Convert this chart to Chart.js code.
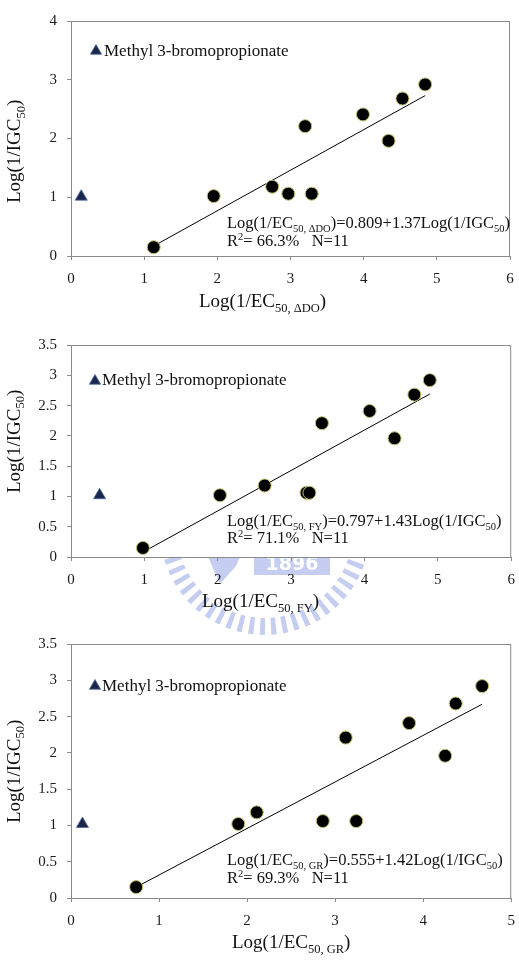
<!DOCTYPE html>
<html>
<head>
<meta charset="utf-8">
<script src="https://cdn.jsdelivr.net/npm/chart.js@4.4.1/dist/chart.umd.min.js"></script>
<style>
  html, body { margin: 0; padding: 0; background: #fff; }
  #wrap { position: relative; width: 519px; height: 961px; overflow: hidden; }
  canvas { position: absolute; left: 0; }
</style>
</head>
<body>
<div id="wrap">
  <canvas id="wm" width="519" height="961" style="top:0"></canvas>
  <canvas id="c1" width="519" height="320" style="top:0"></canvas>
  <canvas id="c2" width="519" height="320" style="top:320px"></canvas>
  <canvas id="c3" width="519" height="341" style="top:620px"></canvas>
</div>
<script>
const SERIF = '"Liberation Serif", "Times New Roman", serif';

// Log(1/IGC50), same compounds in every panel
const igc = [0.15, 1.02, 1.18, 1.06, 1.06, 2.21, 2.41, 1.96, 2.68, 2.92];
// Log(1/EC50) for the three end points
const ecDO = [1.13, 1.95, 2.75, 2.97, 3.29, 3.20, 3.99, 4.34, 4.53, 4.84];
const ecFY = [0.98, 2.03, 2.64, 3.21, 3.25, 3.42, 4.07, 4.41, 4.68, 4.89];
const ecGR = [0.74, 1.90, 2.11, 2.86, 3.24, 3.12, 3.84, 4.25, 4.37, 4.67];
// Methyl 3-bromopropionate, [x, y]
const outDO = [0.14, 1.01];
const outFY = [0.39, 1.02];
const outGR = [0.13, 1.02];
// trend line end points
const fitDO = [[1.13, 0.17], [4.84, 2.73]];
const fitFY = [[0.98, 0.08], [4.89, 2.69]];
const fitGR = [[0.74, 0.15], [4.67, 2.67]];
// ticks
const xTicks6 = [0, 1, 2, 3, 4, 5, 6];
const xTicks5 = [0, 1, 2, 3, 4, 5];
const yTicks4 = [0, 1, 2, 3, 4];
const yTicks35 = [0, 0.5, 1, 1.5, 2, 2.5, 3, 3.5];

const PANELS = [
    {
        canvas: 'c1', xs: ecDO, out: outDO, fit: fitDO, xTicks: xTicks6, yTicks: yTicks4,
        box: { left: 71, top: 21, right: 510, bottom: 256, height: 320 },
        sub: '50, \u0394DO', coef: ')=0.809+1.37Log(1/IGC', r2: '66.3%',
        legend: [96, 51, 104, 56], eq: [227, 228, 246], xTitle: [199, 307], yTitle: [20, 203],
    },
    {
        canvas: 'c2', xs: ecFY, out: outFY, fit: fitFY, xTicks: xTicks6, yTicks: yTicks35,
        box: { left: 71, top: 25, right: 514, bottom: 237, height: 320 },
        sub: '50, FY', coef: ')=0.797+1.43Log(1/IGC', r2: '71.1%',
        legend: [95, 61, 102, 65], eq: [227, 206, 223], xTitle: [202, 287], yTitle: [19.5, 173],
    },
    {
        canvas: 'c3', xs: ecGR, out: outGR, fit: fitGR, xTicks: xTicks5, yTicks: yTicks35,
        box: { left: 71, top: 24, right: 512, bottom: 278, height: 341 },
        sub: '50, GR', coef: ')=0.555+1.42Log(1/IGC', r2: '69.3%',
        legend: [95, 66, 102, 71], eq: [227, 245, 263], xTitle: [232, 328], yTitle: [19.5, 203],
    },
];

// parts: [text, kind]  kind 0 normal, 1 subscript, 2 superscript
function drawRich(ctx, parts, x, y, size, small) {
    ctx.textAlign = 'left';
    ctx.textBaseline = 'alphabetic';
    let cx = x;
    for (const [t, k] of parts) {
        ctx.font = `${k ? small : size}px ${SERIF}`;
        const dy = k === 1 ? size * 0.24 : k === 2 ? -size * 0.38 : 0;
        ctx.fillText(t, cx, y + dy);
        cx += ctx.measureText(t).width;
    }
}

function triangle(ctx, x, y, r) {
    ctx.beginPath();
    ctx.moveTo(x, y - r);
    ctx.lineTo(x + r * 0.866, y + r * 0.5);
    ctx.lineTo(x - r * 0.866, y + r * 0.5);
    ctx.closePath();
    ctx.fillStyle = '#1b2748';
    ctx.fill();
    ctx.strokeStyle = '#4c6aa6';
    ctx.lineWidth = 0.8;
    ctx.stroke();
}

const panelText = {
    id: 'panelText',
    beforeDraw(chart) {
        const { ctx, chartArea: a } = chart;
        ctx.save();
        ctx.fillStyle = '#fff';
        ctx.fillRect(a.left, a.top, a.right - a.left, a.bottom - a.top);
        ctx.restore();
    },
    afterDraw(chart, args, p) {
        const { ctx, chartArea: a } = chart;
        ctx.save();
        ctx.strokeStyle = '#8a8a8a';
        ctx.lineWidth = 1;
        ctx.strokeRect(a.left + 0.5, a.top + 0.5, a.right - a.left - 1, a.bottom - a.top);

        // legend
        triangle(ctx, p.legend[0], p.legend[1], 6.5);
        ctx.fillStyle = '#111';
        ctx.font = `17px ${SERIF}`;
        ctx.textAlign = 'left';
        ctx.textBaseline = 'alphabetic';
        ctx.fillText('Methyl 3-bromopropionate', p.legend[2], p.legend[3]);

        // regression equation
        drawRich(ctx, [['Log(1/EC', 0], [p.sub, 1], [p.coef, 0], ['50', 1], [')', 0]],
            p.eq[0], p.eq[1], 16.5, 10.5);
        drawRich(ctx, [['R', 0], ['2', 2], ['= ' + p.r2 + '   N=11', 0]],
            p.eq[0], p.eq[2], 16.5, 10.5);

        // axis titles
        drawRich(ctx, [['Log(1/EC', 0], [p.sub, 1], [')', 0]], p.xTitle[0], p.xTitle[1], 19, 12.5);
        ctx.translate(p.yTitle[0], p.yTitle[1]);
        ctx.rotate(-Math.PI / 2);
        drawRich(ctx, [['Log(1/IGC', 0], ['50', 1], [')', 0]], 0, 0, 19, 12.5);
        ctx.restore();
    },
};

function makeChart(p) {
    const W = 519;
    const pts = p.xs.map((x, i) => ({ x, y: igc[i] }));
    const tickFont = { family: SERIF, size: 15 };
    const gridOpts = { drawOnChartArea: false, drawTicks: true, tickLength: 4, color: '#8a8a8a' };
    return new Chart(document.getElementById(p.canvas), {
        type: 'scatter',
        data: {
            datasets: [
                {
                    data: pts,
                    backgroundColor: '#000',
                    borderColor: '#c2c26e',
                    borderWidth: 1,
                    pointRadius: 6.5,
                },
                {
                    data: [{ x: p.out[0], y: p.out[1] }],
                    pointStyle: 'triangle',
                    backgroundColor: '#1b2748',
                    borderColor: '#4c6aa6',
                    borderWidth: 0.8,
                    pointRadius: 7,
                },
                {
                    data: p.fit.map(([x, y]) => ({ x, y })),
                    showLine: true,
                    borderColor: '#000',
                    borderWidth: 1,
                    pointRadius: 0,
                    fill: false,
                },
            ],
        },
        options: {
            responsive: false,
            animation: false,
            events: [],
            layout: { padding: { top: p.box.top, right: W - p.box.right, left: 0, bottom: 0 } },
            plugins: { legend: { display: false }, tooltip: { enabled: false }, panelText: p },
            scales: {
                x: {
                    type: 'linear',
                    min: 0,
                    max: p.xTicks[p.xTicks.length - 1],
                    afterBuildTicks: (s) => { s.ticks = p.xTicks.map((v) => ({ value: v })); },
                    afterFit: (s) => {
                        s.height = p.box.height - p.box.bottom;
                        s.paddingLeft = 0;
                        s.paddingRight = 0;
                    },
                    grid: gridOpts,
                    border: { display: false },
                    ticks: {
                        padding: 10, color: '#1a1a1a', font: tickFont, maxRotation: 0, autoSkip: false,
                        callback: (v) => String(v),
                    },
                },
                y: {
                    type: 'linear',
                    min: 0,
                    max: p.yTicks[p.yTicks.length - 1],
                    afterBuildTicks: (s) => { s.ticks = p.yTicks.map((v) => ({ value: v })); },
                    afterFit: (s) => {
                        s.width = p.box.left;
                        s.paddingTop = 0;
                        s.paddingBottom = 0;
                    },
                    grid: gridOpts,
                    border: { display: false },
                    ticks: {
                        padding: 10, color: '#1a1a1a', font: tickFont, autoSkip: false,
                        callback: (v) => String(v),
                    },
                },
            },
        },
        plugins: [panelText],
    });
}

// faint university seal behind the middle panel
function drawSeal() {
    const c = document.getElementById('wm').getContext('2d');
    const cx = 265, cy = 530, r0 = 88, r1 = 105, n = 56;
    c.fillStyle = '#c5cdf0';
    for (let i = 0; i < n; i++) {
        const a0 = (i * 2 * Math.PI) / n;
        const a1 = a0 + (Math.PI / n) * 0.9;
        c.beginPath();
        c.arc(cx, cy, r1, a0, a1);
        c.arc(cx, cy, r0, a1, a0, true);
        c.closePath();
        c.fill();
    }
    c.beginPath();
    c.moveTo(205, 550); c.lineTo(243, 550); c.lineTo(236, 566); c.lineTo(220, 584);
    c.closePath();
    c.fill();
    c.fillRect(254, 548, 76, 27);
    c.fillStyle = '#fff';
    c.font = 'bold 19px "DejaVu Sans", sans-serif';
    c.textAlign = 'center';
    c.textBaseline = 'middle';
    c.fillText('1896', 292, 565);
}

drawSeal();
PANELS.forEach(makeChart);
</script>
</body>
</html>
